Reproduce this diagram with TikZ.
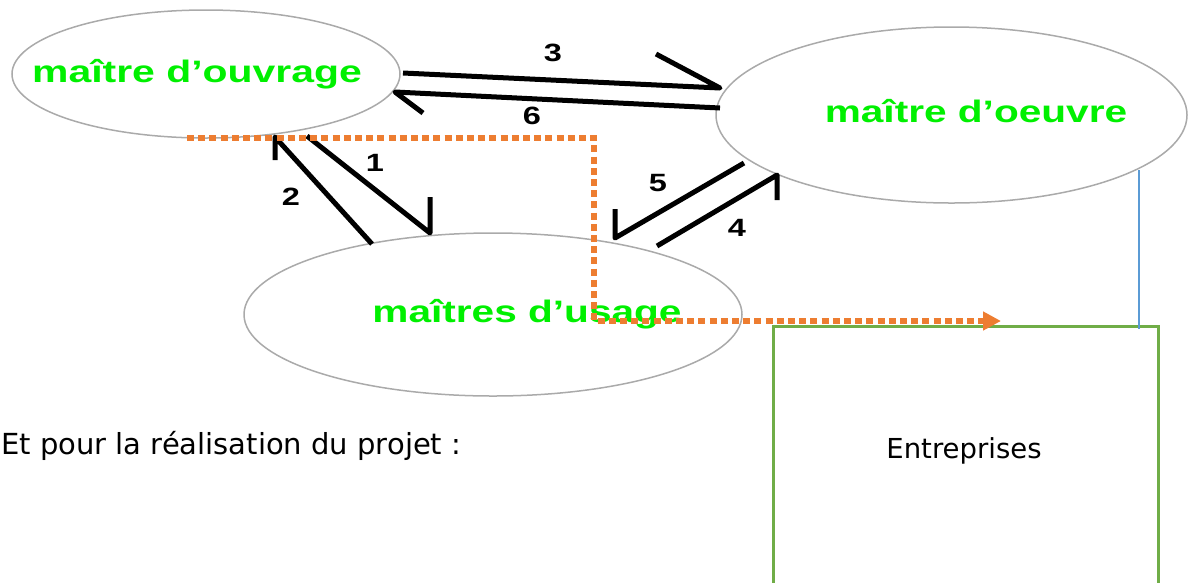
\documentclass[tikz,border=0pt]{standalone}
\usepackage{fontspec}
\usepackage{graphicx}
\usetikzlibrary{shapes.geometric,arrows.meta}
\newfontfamily\lib{Liberation Sans}
\newfontfamily\dvs{DejaVu Sans}
\definecolor{gtxt}{RGB}{0,240,0}
\definecolor{ellgray}{RGB}{170,170,170}
\definecolor{orng}{RGB}{237,125,49}
\definecolor{boxgreen}{RGB}{112,173,71}
\definecolor{lblue}{RGB}{91,155,213}
\tikzset{
  ell/.style={ellipse, draw=ellgray, line width=1.5pt, inner sep=0pt, fill=white},
  gname/.style={anchor=base, inner sep=0pt, text=gtxt, font=\lib\bfseries\fontsize{31}{36}\selectfont},
  num/.style={inner sep=0pt, text=black, font=\lib\bfseries\fontsize{25}{30}\selectfont},
  harp/.style={line width=5pt, black, line join=round, line cap=butt},
  odot/.style={orng, line width=6pt, dash pattern=on 7pt off 4.2pt, -{Triangle[length=18pt,width=18pt]}},
}
\begin{document}
\begin{tikzpicture}[x=1pt,y=-1pt]
\useasboundingbox (0,0) rectangle (1190,582);
\clip (0,0) rectangle (1190,582);
% ellipses
\node[ell, minimum width=388pt, minimum height=128pt] (ouv) at (206,74) {};
\node[ell, minimum width=471pt, minimum height=176pt] (oeu) at (951.5,115) {};
\node[ell, minimum width=498pt, minimum height=163pt] (usa) at (493,314.5) {};
% labels
\node[gname] (ouvT) at (197,82) {\scalebox{1.32}[1]{maître d’ouvrage}};
\node[gname] (oeuT) at (976,122) {\scalebox{1.31}[1]{maître d’oeuvre}};
\node[gname] (usaT) at (527,322) {\scalebox{1.31}[1]{maîtres d’usage}};
% harpoon arrows
\coordinate (a3s) at (403,73);  \coordinate (a3t) at (720,88);  \coordinate (a3b) at (656,54);
\coordinate (a6s) at (720,108); \coordinate (a6t) at (395,92);  \coordinate (a6b) at (423,113);
\coordinate (a1s) at (307,136); \coordinate (a1t) at (430,233); \coordinate (a1b) at (430,197);
\coordinate (a2s) at (372,244); \coordinate (a2t) at (275,137); \coordinate (a2b) at (275,160);
\coordinate (a5s) at (744,163); \coordinate (a5t) at (615,238); \coordinate (a5b) at (615,209);
\coordinate (a4s) at (657,246); \coordinate (a4t) at (777,175); \coordinate (a4b) at (777,200);
\draw[harp] (a3s) -- (a3t) -- (a3b);
\draw[harp] (a6s) -- (a6t) -- (a6b);
\draw[harp] (a1s) -- (a1t) -- (a1b);
\draw[harp] (a2s) -- (a2t) -- (a2b);
\draw[harp] (a5s) -- (a5t) -- (a5b);
\draw[harp] (a4s) -- (a4t) -- (a4b);
\node[num] (n3) at (553,53) {\scalebox{1.3}[1]{3}};
\node[num] (n6) at (532,116) {\scalebox{1.3}[1]{6}};
\node[num] (n1) at (375,163) {\scalebox{1.3}[1]{1}};
\node[num] (n2) at (291,197) {\scalebox{1.3}[1]{2}};
\node[num] (n5) at (658,183) {\scalebox{1.3}[1]{5}};
\node[num] (n4) at (737,228) {\scalebox{1.3}[1]{4}};
% box
\node[draw=boxgreen, line width=2.5pt, minimum width=385pt, minimum height=280pt, inner sep=0pt, anchor=north west] (ent) at (772,325) {};
\node[anchor=base, inner sep=0pt, font=\dvs\fontsize{27.5}{32}\selectfont] (entT) at (964,458) {Entreprises};
% blue line
\coordinate (bl1) at (1139,170);
\coordinate (bl2) at (1139,329);
\draw[lblue, line width=2pt] (bl1) -- (bl2);
% orange dotted path
\coordinate (o1) at (187,138);
\coordinate (o2) at (594,138);
\coordinate (o3) at (594,321);
\coordinate (o4) at (1001,321);
\draw[odot] (o1) -- (o2) -- (o3) -- (o4);
% text
\node[anchor=base west, inner sep=0pt, font=\dvs\fontsize{29}{34}\selectfont] (et) at (1,454) {Et pour la réalisation du projet :};
\end{tikzpicture}
\end{document}
